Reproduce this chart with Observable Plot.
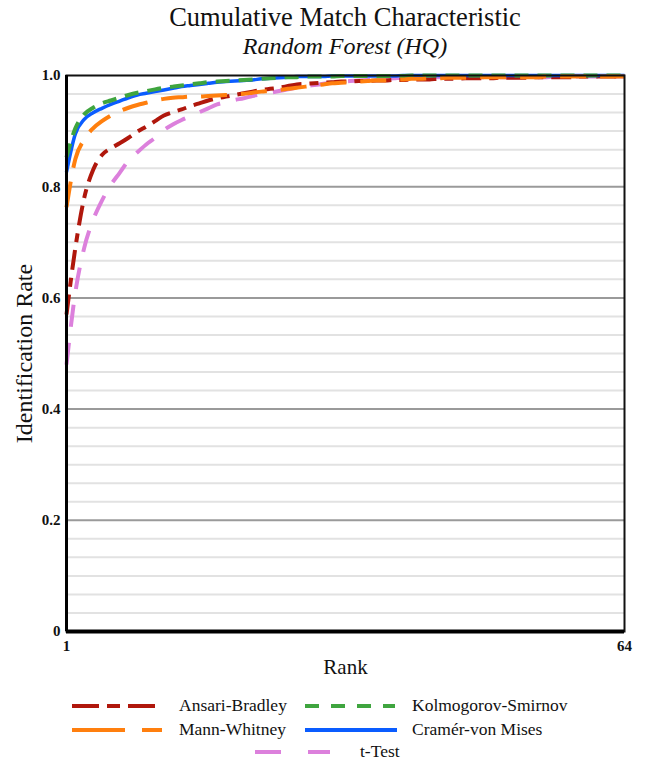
<!DOCTYPE html>
<html>
<head>
<meta charset="utf-8">
<script src="https://cdn.jsdelivr.net/npm/d3@7"></script>
<script src="https://cdn.jsdelivr.net/npm/@observablehq/plot@0.6"></script>
<style>
  body { margin: 0; background: #fff; font-family: "Liberation Serif", serif; }
  #wrap { position: relative; width: 648px; height: 763px; }
  #title { position: absolute; left: 66px; width: 558px; top: 2px; text-align: center; font-family: "Liberation Serif", serif; font-size: 26.5px; color: #111; }
  #subtitle { position: absolute; left: 66px; width: 558px; top: 33px; text-align: center; font-family: "Liberation Serif", serif; font-size: 24px; font-style: italic; color: #111; }
  #chart { position: absolute; left: 0; top: 0; }
  #legend { position: absolute; left: 0; top: 690px; width: 648px; height: 73px; }
  .lg { position: absolute; font-family: "Liberation Serif", serif; font-size: 17.5px; color: #111; line-height: 22px; white-space: nowrap; }
</style>
</head>
<body>
<div id="wrap">
  <div id="chart"></div>
  <div id="title">Cumulative Match Characteristic</div>
  <div id="subtitle">Random Forest (HQ)</div>
  <div id="legend"></div>
</div>
<script>
const ranks = d3.range(1, 65);

const ansariBradley = [0.57,0.69,0.78,0.83,0.857,0.869,0.878,0.888,0.899,0.908,0.918,0.928,0.934,0.939,0.945,0.950,
  0.955,0.959,0.962,0.965,0.968,0.971,0.974,0.976,0.978,0.981,0.984,0.985,0.986,0.987,0.988,0.989,
  0.989,0.990,0.990,0.991,0.991,0.992,0.992,0.993,0.993,0.993,0.994,0.994,0.994,0.995,0.995,0.995,
  0.995,0.996,0.996,0.996,0.996,0.997,0.997,0.997,0.997,0.997,0.998,0.998,0.998,0.998,0.998,0.998];
const mannWhitney = [0.763,0.85,0.885,0.905,0.918,0.928,0.936,0.942,0.947,0.951,0.955,0.958,0.960,0.961,0.962,0.962,
  0.963,0.964,0.965,0.966,0.967,0.969,0.971,0.972,0.974,0.976,0.978,0.980,0.982,0.984,0.986,0.987,
  0.988,0.989,0.990,0.991,0.991,0.992,0.993,0.994,0.994,0.995,0.995,0.996,0.996,0.996,0.996,0.997,
  0.997,0.997,0.997,0.997,0.997,0.997,0.998,0.998,0.998,0.998,0.998,0.998,0.998,0.998,0.998,0.998];
const kolmogorovSmirnov = [0.853,0.905,0.930,0.942,0.950,0.955,0.960,0.965,0.969,0.972,0.975,0.978,0.980,0.982,0.984,0.986,
  0.988,0.989,0.990,0.991,0.992,0.993,0.994,0.995,0.996,0.997,0.997,0.998,0.998,0.998,0.998,0.999,
  0.999,0.999,0.999,0.999,0.999,0.999,0.999,1.0,1.0,1.0,1.0,1.0,1.0,1.0,1.0,1.0,
  1.0,1.0,1.0,1.0,1.0,1.0,1.0,1.0,1.0,1.0,1.0,1.0,1.0,1.0,1.0,1.0];
const cramerVonMises = [0.826,0.895,0.921,0.933,0.941,0.948,0.954,0.960,0.965,0.968,0.971,0.974,0.977,0.980,0.982,0.984,
  0.986,0.988,0.989,0.990,0.991,0.992,0.994,0.995,0.996,0.997,0.998,0.998,0.998,0.998,0.999,0.999,
  0.999,0.999,0.999,0.999,0.999,0.999,1.0,1.0,1.0,1.0,1.0,1.0,1.0,1.0,1.0,1.0,
  1.0,1.0,1.0,1.0,1.0,1.0,1.0,1.0,1.0,1.0,1.0,1.0,1.0,1.0,1.0,1.0];
const tTest = [0.48,0.61,0.69,0.74,0.775,0.803,0.825,0.847,0.862,0.876,0.888,0.902,0.912,0.920,0.927,0.934,
  0.941,0.948,0.952,0.956,0.959,0.963,0.966,0.969,0.972,0.975,0.978,0.981,0.983,0.985,0.987,0.989,
  0.990,0.991,0.992,0.993,0.994,0.995,0.996,0.996,0.997,0.997,0.997,0.997,0.997,0.997,0.997,0.997,
  0.997,0.997,0.997,0.997,0.997,0.997,0.997,0.998,0.998,0.998,0.998,0.998,0.998,0.998,0.998,0.998];

const seriesNames = ["t-Test","Ansari-Bradley","Cramér-von Mises","Kolmogorov-Smirnov","Mann-Whitney"];
const seriesValues = [tTest, ansariBradley, cramerVonMises, kolmogorovSmirnov, mannWhitney];
const seriesColors = ["#dc80dc","#b0170c","#0a5cff","#3fa53f","#ff7f0e"];
const seriesDash = ["22,16","20,8,9,8",null,"14,9","26,14"];
const legendDash = ["26,27","27,8,13,8",null,"14,12","53,17"];

const yMajor = [0,0.2,0.4,0.6,0.8,1.0];
const yMinor = d3.range(0, 31).map(i => i/30).filter(v => !yMajor.some(m => Math.abs(m - v) < 1e-9));
const xTicks = [1, 64];

const lineMarks = seriesNames.map((name, i) => {
  const data = ranks.map((r, j) => ({rank: r, rate: seriesValues[i][j]}));
  const opts = {x: "rank", y: "rate", stroke: seriesColors[i], strokeWidth: 4, curve: "monotone-x", strokeLinecap: "butt"};
  if (seriesDash[i]) opts.strokeDasharray = seriesDash[i];
  else opts.strokeWidth = 3.5;
  return Plot.line(data, opts);
});

const plot = Plot.plot({
  width: 648,
  height: 690,
  marginTop: 75,
  marginBottom: 59,
  marginLeft: 66,
  marginRight: 24,
  style: {fontFamily: "Liberation Serif, serif", fontSize: "15px", color: "#111", background: "transparent"},
  x: {domain: [1, 64], ticks: xTicks, tickSize: 0, tickPadding: 9, label: "Rank", labelAnchor: "center", labelArrow: "none", labelOffset: 42},
  y: {domain: [0, 1], ticks: yMajor, tickSize: 0, tickPadding: 6, tickFormat: d => d === 0 ? "0" : d.toFixed(1), label: "Identification Rate", labelAnchor: "center", labelArrow: "none", labelOffset: 52},
  marks: [
    Plot.ruleY(yMinor, {stroke: "#e2e2e2", strokeWidth: 2}),
    Plot.ruleY(yMajor.filter(v => v > 0 && v < 1), {stroke: "#9a9a9a", strokeWidth: 2}),
    ...lineMarks,
    Plot.frame({stroke: "#111", strokeWidth: 2}),
    Plot.ruleX([1], {stroke: "#000", strokeWidth: 3}),
    Plot.ruleY([0], {stroke: "#000", strokeWidth: 4})
  ]
});
document.getElementById("chart").appendChild(plot);

// style axis labels and tick labels
d3.select(plot).selectAll("[aria-label='x-axis label'] text").style("font-size", "21px");
d3.select(plot).selectAll("[aria-label='y-axis label'] text").style("font-size", "24px");
d3.select(plot).selectAll("[aria-label='x-axis tick label'] text, [aria-label='y-axis tick label'] text").style("font-weight", "600");

// legend
const legendItems = [
  {i: 1, sx: 72, sw: 90, tx: 179, y: 16},
  {i: 4, sx: 72, sw: 90, tx: 179, y: 40},
  {i: 3, sx: 305, sw: 90, tx: 412, y: 16},
  {i: 2, sx: 305, sw: 92, tx: 412, y: 40},
  {i: 0, sx: 255, sw: 75, tx: 360, y: 62}
];
const lg = d3.select("#legend");
const svg = lg.append("svg").attr("width", 648).attr("height", 73).style("position", "absolute").style("left", 0).style("top", 0);
legendItems.forEach(it => {
  const l = svg.append("line").attr("x1", it.sx).attr("x2", it.sx + it.sw).attr("y1", it.y).attr("y2", it.y)
    .attr("stroke", seriesColors[it.i]).attr("stroke-width", 4);
  if (legendDash[it.i]) l.attr("stroke-dasharray", legendDash[it.i]);
  lg.append("div").attr("class", "lg").style("left", it.tx + "px").style("top", (it.y - 12) + "px").text(seriesNames[it.i]);
});
</script>
</body>
</html>
